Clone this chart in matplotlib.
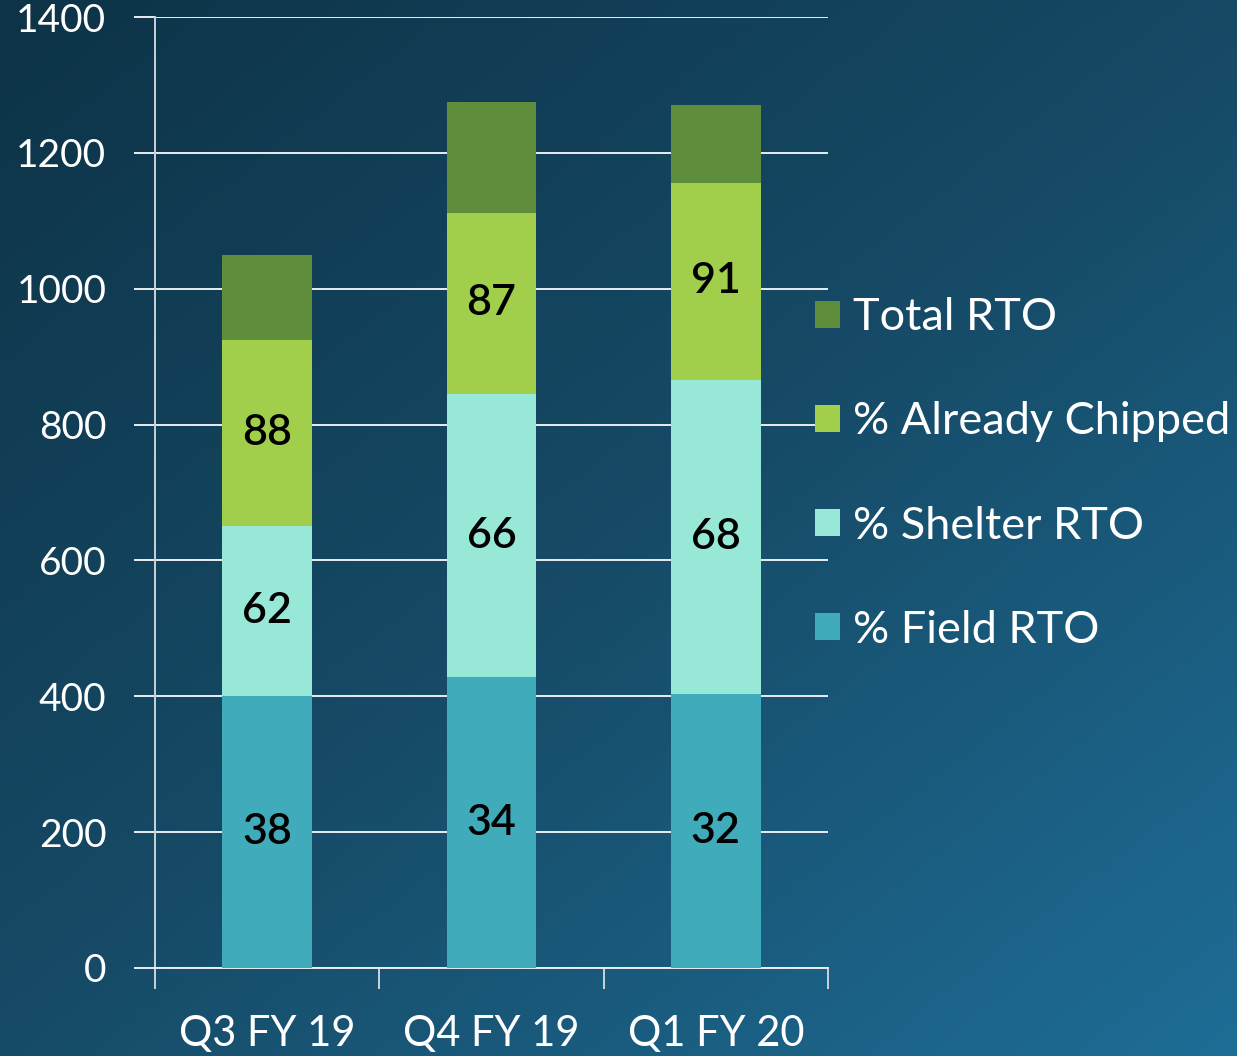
import numpy as np
import matplotlib
matplotlib.use('Agg')
from matplotlib import pyplot as plt
from matplotlib.colors import LinearSegmentedColormap

plt.rcParams['font.family'] = ['Lato', 'DejaVu Sans']

quarters = ['Q3 FY 19', 'Q4 FY 19', 'Q1 FY 20']
field = [400, 428, 403]
shelter = [250, 417, 463]
chipped = [275, 267, 290]
total = [125, 163, 115]
field_pct = ['38', '34', '32']
shelter_pct = ['62', '66', '68']
chipped_pct = ['88', '87', '91']

series = [
    ('% Field RTO', field, '#3fabbb', field_pct),
    ('% Shelter RTO', shelter, '#98e8d7', shelter_pct),
    ('% Already Chipped', chipped, '#a2cf4b', chipped_pct),
    ('Total RTO', total, '#5e8d3c', None),
]

fig = plt.figure(figsize=(12.37, 10.56), dpi=100)

# gradient background
bg = fig.add_axes([0, 0, 1, 1], zorder=-10)
yy, xx = np.mgrid[0:1:200j, 0:1:200j]
grad = 0.55 * xx + 0.6 * yy
cmap = LinearSegmentedColormap.from_list('bg', ['#0d3347', '#164a66', '#1e6d96'])
bg.imshow(grad, cmap=cmap, aspect='auto', extent=[0, 1, 0, 1], origin='upper', vmin=0, vmax=1.15)
bg.axis('off')

ax = fig.add_axes([155/1237, 1-968/1056, (828-155)/1237, (968-17)/1056])
ax.patch.set_alpha(0)

x = np.arange(len(quarters))
bottom = np.zeros(len(quarters))
handles = []
for name, vals, col, labs in series:
    vals = np.array(vals, dtype=float)
    b = ax.bar(x, vals, 0.4, bottom=bottom, color=col, label=name, zorder=3)
    handles.append(b)
    if labs is not None:
        for xi, bt, v, s in zip(x, bottom, vals, labs):
            ax.text(xi, bt + v/2, s, ha='center', va='center', fontsize=31,
                    fontweight='semibold', color='black', zorder=4)
    bottom += vals

ax.set_xlim(-0.5, 2.5)
ax.set_ylim(0, 1400)
ax.set_yticks(range(0, 1401, 200))
ax.yaxis.grid(True, color='#e8eef2', lw=1.4, zorder=0)
ax.tick_params(axis='y', length=15, width=1.4, color='#e8eef2', labelcolor='white',
               labelsize=28, pad=20)
ax.set_xticks(x)
ax.set_xticklabels(quarters)
ax.set_xticks([-0.5, 0.5, 1.5, 2.5], minor=True)
ax.tick_params(axis='x', which='major', length=0, labelcolor='white', labelsize=30, pad=34)
ax.tick_params(axis='x', which='minor', length=15, width=1.4, color='#c8d4da')
for s in ['top', 'right']:
    ax.spines[s].set_visible(False)
ax.spines['left'].set_color('#c8d4da')
ax.spines['left'].set_linewidth(1.4)
ax.spines['bottom'].set_color('#e8eef2')
ax.spines['bottom'].set_linewidth(1.4)
ax.set_axisbelow(True)

leg = fig.legend(handles[::-1], [s[0] for s in series][::-1], loc='center left',
                 bbox_to_anchor=(815/1237, 1-474/1056), frameon=False, fontsize=32.5,
                 handlelength=0.55, handleheight=0.55, handletextpad=0.3,
                 labelspacing=1.4, borderpad=0, borderaxespad=0)
for t in leg.get_texts():
    t.set_color('white')

fig.savefig('out.png', dpi=100)
